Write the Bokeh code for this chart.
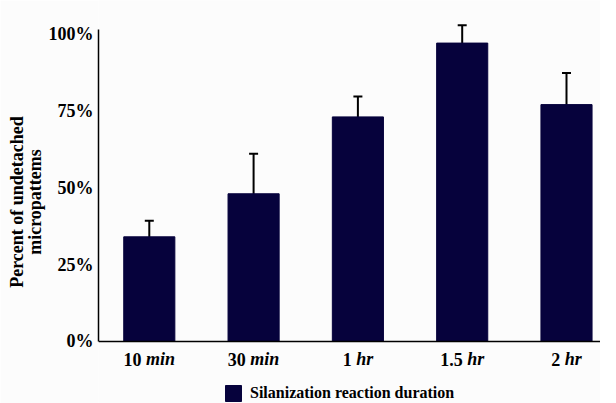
from bokeh.plotting import figure
from bokeh.models import (ColumnDataSource, Range1d, FixedTicker, Whisker, TeeHead,
                          LabelSet, Legend, LegendItem, Span)
from bokeh.core.properties import value
from bokeh.embed import file_html
from bokeh.resources import INLINE

# ---- data ----
numbers = ["10", "30", "1", "1.5", "2"]
units = ["min", "min", "hr", "hr", "hr"]
values = [34, 48, 73, 97, 77]
errors = [5.2, 13.0, 6.6, 5.8, 10.3]
y_ticks = [0, 25, 50, 75, 100]
y_tick_labels = ["0%", "25%", "50%", "75%", "100%"]
legend_label = "Silanization reaction duration"
y_title = "Percent of undetached\nmicropattems"

BG = "#fcfcfc"
BAR = "#06023c"
FONT = "Liberation Serif"
FS = 18

xs = list(range(len(values)))
upper = [v + e for v, e in zip(values, errors)]
lower = [v - e for v, e in zip(values, errors)]

# approximate glyph widths (em) for centering mixed-style labels
W_BOLD = {c: 0.5 for c in "0123456789"}
W_BOLD.update({".": 0.25, " ": 0.25})
W_ITAL = {"m": 0.778, "i": 0.278, "n": 0.556, "h": 0.556, "r": 0.389}
num_off, unit_off = [], []
for n, u in zip(numbers, units):
    wn = sum(W_BOLD[c] for c in n) * FS
    sp = 0.25 * FS
    wu = sum(W_ITAL[c] for c in u) * FS
    t = wn + sp + wu
    num_off.append(-t / 2 + wn)
    unit_off.append(-t / 2 + wn + sp)

src = ColumnDataSource(dict(x=xs, top=values, upper=upper, lower=lower,
                            num=numbers, unit=units, y0=[0] * len(xs),
                            noff=num_off, uoff=unit_off))

p = figure(width=600, height=403, output_backend="svg", toolbar_location=None,
           x_range=Range1d(-0.487, 4.326), y_range=Range1d(-20.2, 110.85),
           min_border_left=98, min_border_right=0, min_border_top=0,
           min_border_bottom=0, background_fill_color=BG, border_fill_color=BG)
p.outline_line_color = None
p.xgrid.visible = False
p.ygrid.visible = False
p.xaxis.visible = False

r = p.vbar(x="x", top="top", width=0.49, source=src, fill_color=BAR, line_color=BAR)

w = Whisker(base="x", upper="upper", lower="lower", source=src,
            line_color="black", line_width=2,
            upper_head=TeeHead(size=9, line_width=2, line_color="black"),
            lower_head=TeeHead(size=9, line_width=2, line_color="black"))
p.add_layout(w)

# baseline (x axis line)
p.add_layout(Span(location=0, dimension="width", line_color="black", line_width=1.5))

# y axis
ya = p.yaxis[0]
ya.ticker = FixedTicker(ticks=y_ticks)
ya.major_label_overrides = {t: l for t, l in zip(y_ticks, y_tick_labels)}
ya.bounds = (0, 101.5)
ya.major_tick_out = 0
ya.major_tick_in = 0
ya.minor_tick_out = 0
ya.minor_tick_in = 0
ya.axis_line_color = "black"
ya.axis_line_width = 1.5
ya.major_label_standoff = 5
ya.major_label_text_font = FONT
ya.major_label_text_font_style = "bold"
ya.major_label_text_font_size = f"{FS}px"
ya.major_label_text_color = "black"
ya.axis_label = y_title
ya.axis_label_text_font = FONT
ya.axis_label_text_font_style = "bold"
ya.axis_label_text_font_size = "18px"
ya.axis_label_text_color = "black"
ya.axis_label_text_line_height = 0.9
ya.axis_label_text_align = "center"
ya.axis_label_standoff = 1

# category labels: bold number + bold italic unit
p.add_layout(LabelSet(x="x", y="y0", text="num", source=src, x_offset="noff",
                      y_offset=-18, text_align="right", text_baseline="middle",
                      text_font=value(FONT), text_font_style="bold",
                      text_font_size=f"{FS}px", text_color="black"))
p.add_layout(LabelSet(x="x", y="y0", text="unit", source=src, x_offset="uoff",
                      y_offset=-18, text_align="left", text_baseline="middle",
                      text_font=value(FONT), text_font_style="bold italic",
                      text_font_size=f"{FS}px", text_color="black"))

legend = Legend(items=[LegendItem(label=legend_label, renderers=[r])],
                location=(125, 0), orientation="horizontal",
                background_fill_alpha=0, border_line_color=None,
                padding=0, margin=0, glyph_width=20, glyph_height=20,
                label_standoff=7, label_text_font=FONT,
                label_text_font_style="bold", label_text_font_size="16px",
                label_text_color="black")
p.add_layout(legend)

open("out.html", "w").write(file_html(p, INLINE))
